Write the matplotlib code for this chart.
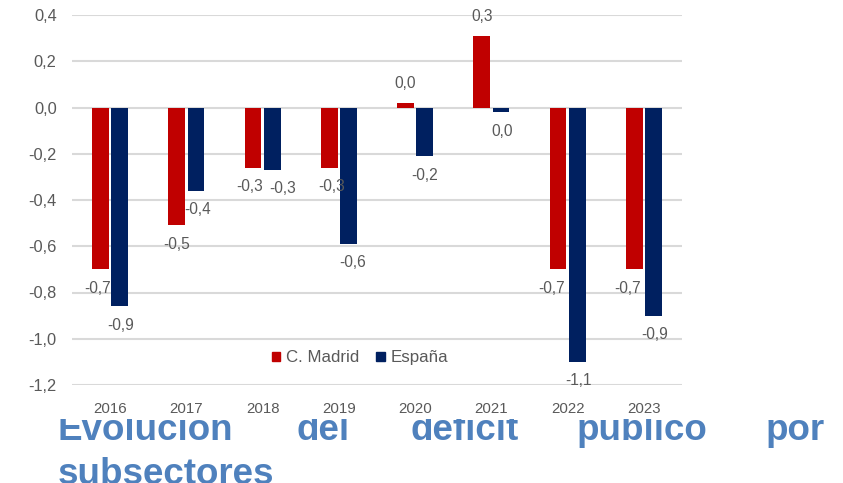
import matplotlib.pyplot as plt
from matplotlib.patches import Patch, Rectangle
from matplotlib.ticker import FuncFormatter
import numpy as np

# Data
years = ["2016", "2017", "2018", "2019", "2020", "2021", "2022", "2023"]
madrid = [-0.70, -0.51, -0.26, -0.26, 0.02, 0.31, -0.70, -0.70]
espana = [-0.86, -0.36, -0.27, -0.59, -0.21, -0.02, -1.10, -0.90]

red = "#C00000"
navy = "#002060"
grey_text = "#595959"
title_blue = "#4F81BD"

plt.rcParams["font.family"] = ["Liberation Sans", "DejaVu Sans"]


def fmt(v, pos=None):
    # Spanish decimal comma
    lab = f"{v:.1f}".replace(".", ",")
    if lab == "-0,0":
        lab = "0,0"
    return lab


fig = plt.figure(figsize=(8.43, 4.83), dpi=100)

# Chart area (pixel positions of the plot box)
W, H = 843, 483
ax = fig.add_axes([72 / W, 1 - 385 / H, 610 / W, 370 / H])
ax.set_zorder(0)

x = np.arange(len(years))
bw = 0.22
off = 0.125
b1 = ax.bar(x - off, madrid, bw, color=red, zorder=3)
b2 = ax.bar(x + off, espana, bw, color=navy, zorder=3)

# Data labels outside the bar ends (small sideways nudges like Excel's placement)
nudge_red = [-3, 0, -3, 2, 0, 0, -7, -7]
nudge_blue = [1, 2, 10, 4, 0, 1, 1, 1]
for bars, vals, nud in [(b1, madrid, nudge_red), (b2, espana, nudge_blue)]:
    for bar, v, dx in zip(bars, vals, nud):
        cx = bar.get_x() + bar.get_width() / 2
        dy = 19 if v >= 0 else -19
        ax.annotate(fmt(v), (cx, v), xytext=(dx, dy), textcoords="offset pixels",
                    ha="center", va="center", fontsize=11.2, color=grey_text, zorder=4)

ax.set_xlim(-0.5, len(years) - 0.5)
ax.set_ylim(-1.2, 0.4)
ax.set_yticks(np.arange(-1.2, 0.41, 0.2))
ax.yaxis.set_major_formatter(FuncFormatter(fmt))
ax.set_xticks(x)
ax.set_xticklabels(years)

ax.grid(axis="y", color="#d9d9d9", linewidth=1.5, zorder=0)
ax.set_axisbelow(True)
for s in ax.spines.values():
    s.set_visible(False)
ax.tick_params(axis="both", length=0, colors=grey_text)
ax.tick_params(axis="y", pad=11, labelsize=11.8)
ax.tick_params(axis="x", pad=12.5, labelsize=10.8)

# Legend with small square markers
handles = [Patch(color=red, label="C. Madrid"), Patch(color=navy, label="España")]
leg = ax.legend(handles=handles, loc="center", bbox_to_anchor=(0.472, 0.073), ncol=2,
                frameon=False, handlelength=0.5, handleheight=0.5, handletextpad=0.35,
                columnspacing=1.0, fontsize=12.2)
for t in leg.get_texts():
    t.set_color(grey_text)

# White box of the chart image that hides the top of the heading
fig.patches.append(Rectangle((0, 1 - 419 / H), 1, 419 / H, transform=fig.transFigure,
                             facecolor="white", edgecolor="none", zorder=-1))

# Justified heading below the chart
words = [("Evolución", 58, "left"), ("del", 296, "left"), ("déficit", 410, "left"),
         ("público", 577, "left"), ("por", 825, "right")]
for w, px, ha in words:
    fig.text(px / W, 1 - 440 / H, w, ha=ha, va="baseline", fontsize=26.5,
             fontweight="bold", color=title_blue, zorder=-2)
fig.text(58 / W, 1 - 484 / H, "subsectores", ha="left", va="baseline", fontsize=26.5,
         fontweight="bold", color=title_blue, zorder=-2)

fig.savefig("out.png", dpi=100)
